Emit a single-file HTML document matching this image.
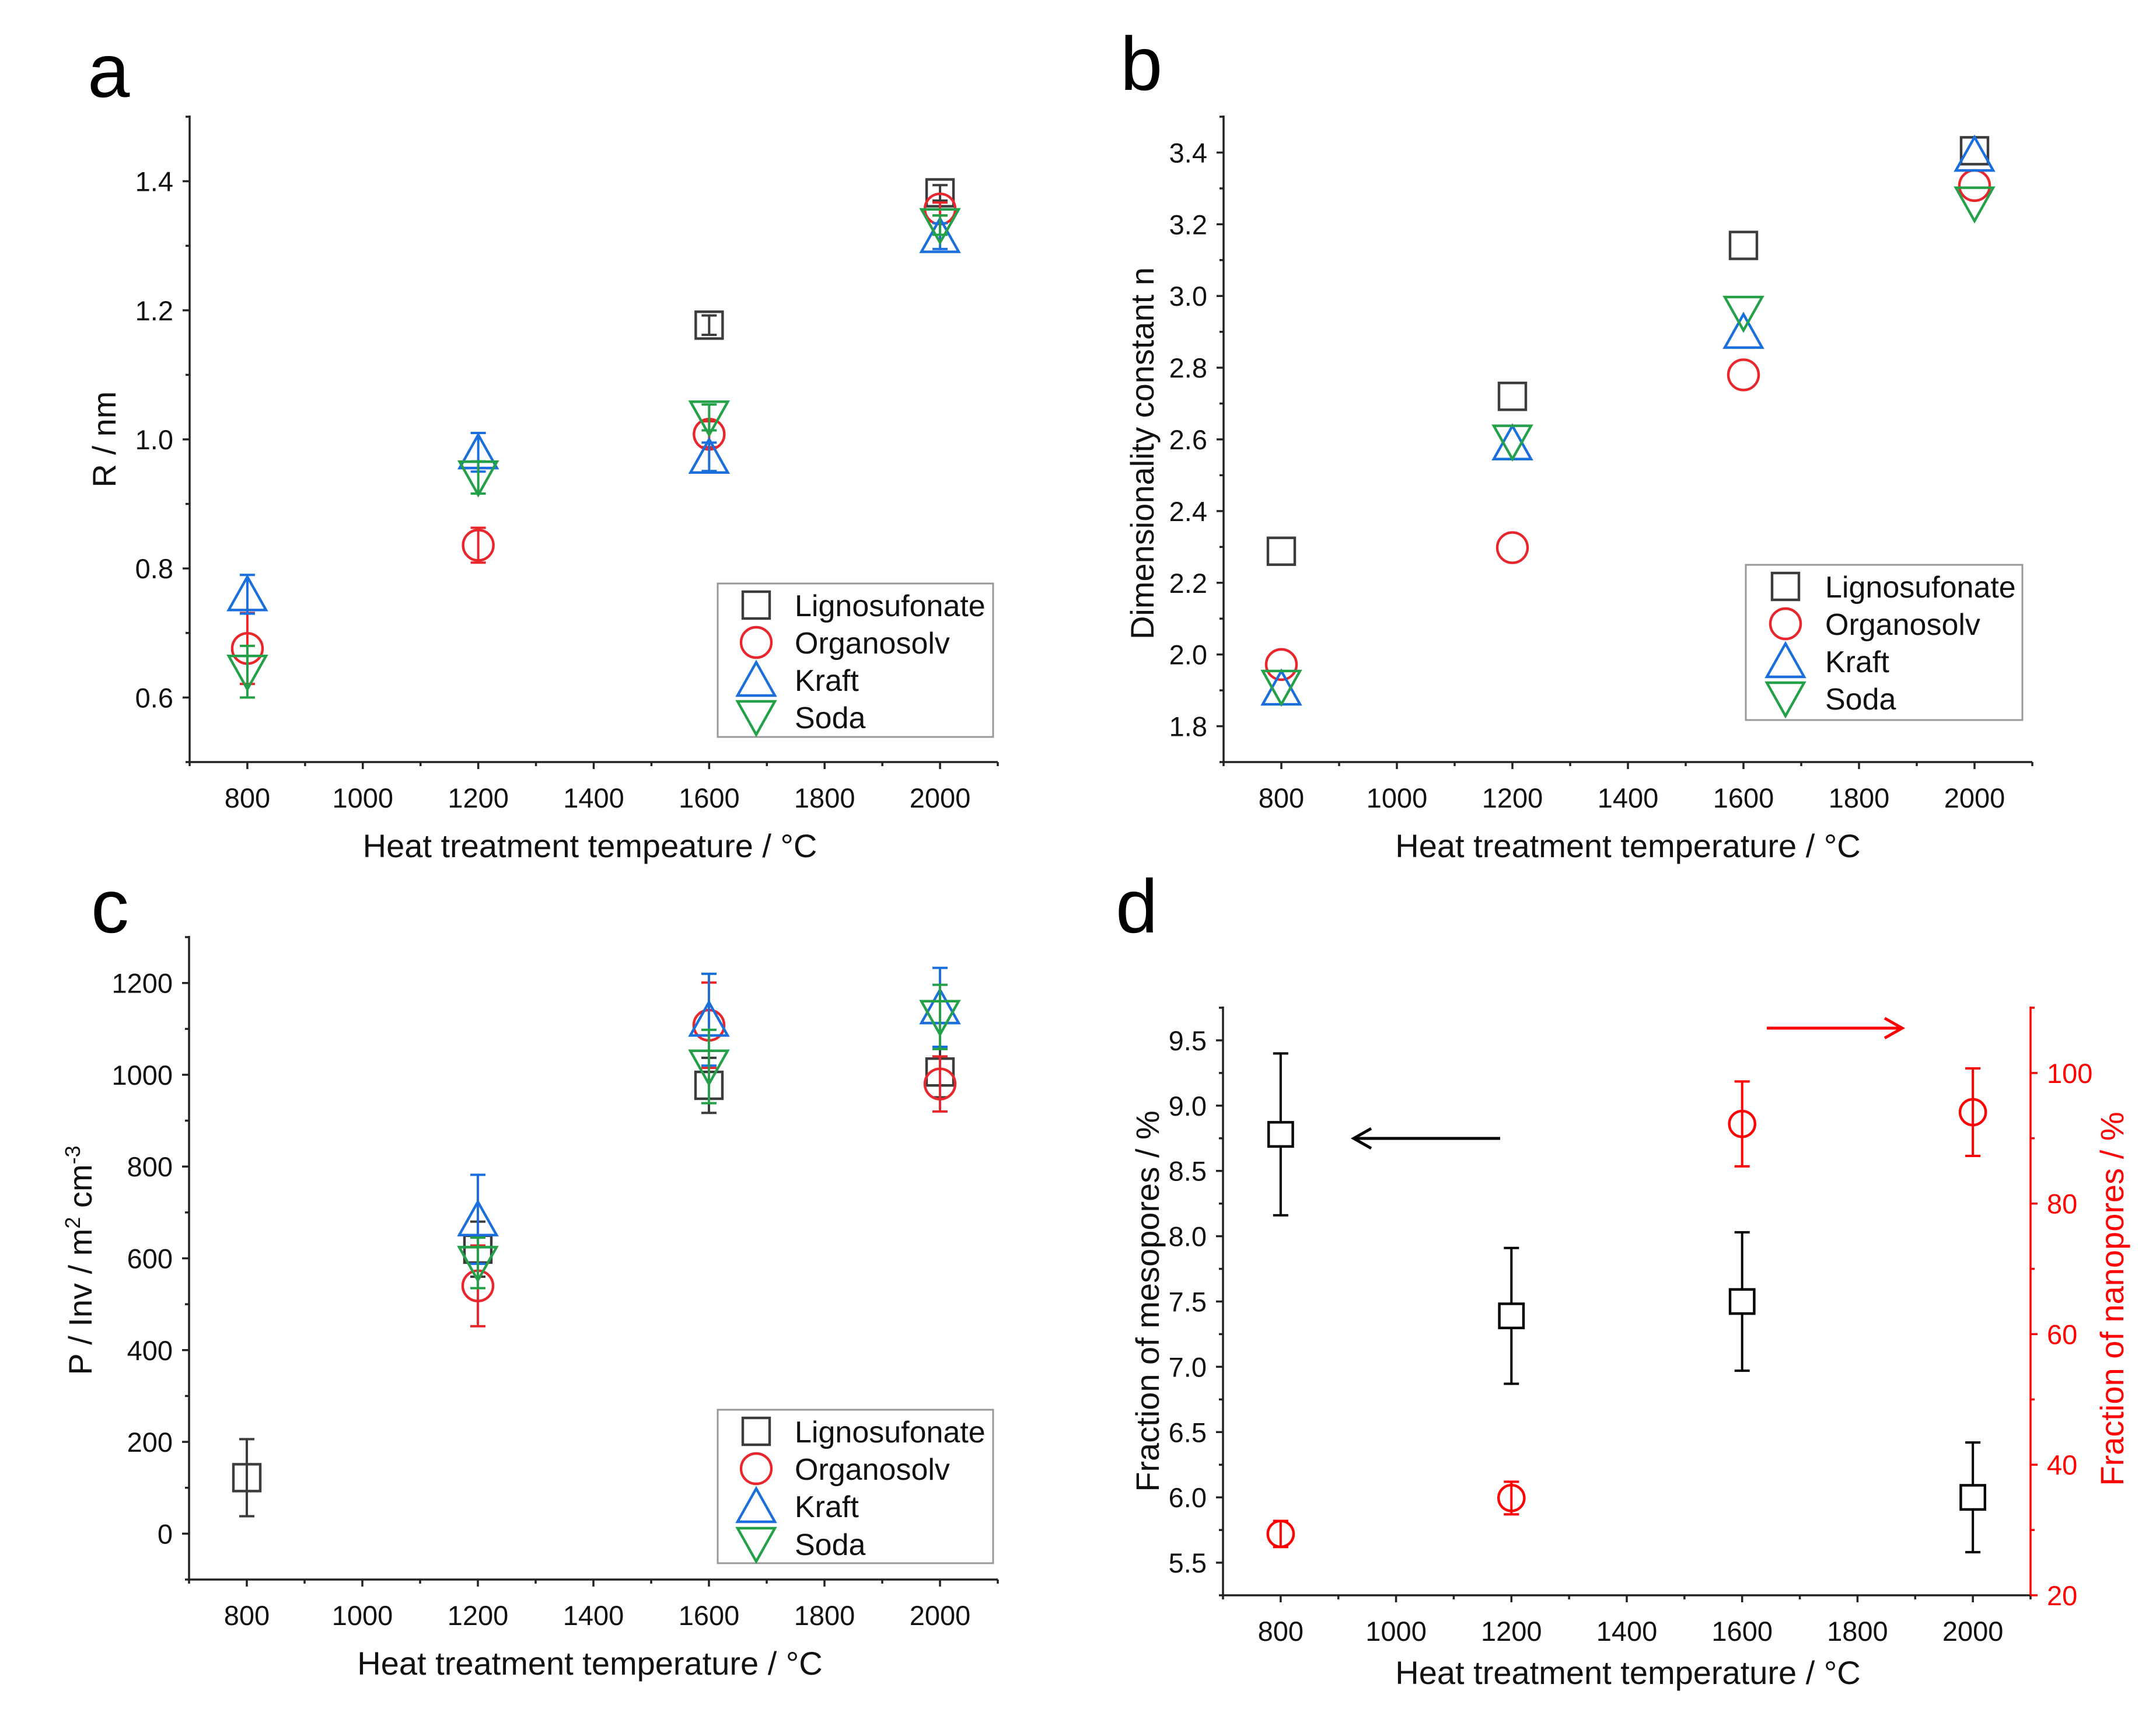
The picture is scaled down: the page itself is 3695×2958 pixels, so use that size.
<!DOCTYPE html>
<html><head><meta charset="utf-8">
<style>
html,body{margin:0;padding:0;background:#fff;overflow:hidden;}
svg{display:block;font-family:"Liberation Sans",Arial,sans-serif;}
</style></head>
<body>
<svg id="fig" width="3695" height="2958" viewBox="0 0 3695 2958" xmlns="http://www.w3.org/2000/svg"></svg>
<script>
// ---------- data ----------
const temps = [800, 1200, 1600, 2000];
const seriesNames = ["Lignosufonate", "Organosolv", "Kraft", "Soda"];
// panel a: R / nm
const ligA = [null, null, 1.177, 1.382];
const ligAErr = [0, 0, 0.015, 0.012];
const orgA = [0.676, 0.836, 1.008, 1.357];
const orgAErr = [0.055, 0.027, 0.02, 0.01];
const kraA = [0.76, 0.98, 0.973, 1.315];
const kraAErr = [0.03, 0.03, 0.022, 0.02];
const sodA = [0.640, 0.941, 1.034, 1.332];
const sodAErr = [0.04, 0.025, 0.02, 0.015];
// panel b: dimensionality constant
const ligB = [2.288, 2.72, 3.141, 3.405];
const orgB = [1.972, 2.298, 2.78, 3.308];
const kraB = [1.905, 2.589, 2.90, 3.394];
const sodB = [1.91, 2.594, 2.953, 3.258];
// panel c: P / Inv
const ligC = [122, 620, 977, 1006];
const ligCErr = [84, 60, 60, 55];
const orgC = [null, 540, 1108, 980];
const orgCErr = [0, 88, 93, 60];
const kraC = [null, 685, 1120, 1147];
const kraCErr = [0, 97, 100, 86];
const sodC = [null, 590, 1018, 1126];
const sodCErr = [0, 55, 80, 70];
// panel d
const mesoD = [8.78, 7.39, 7.50, 6.00];
const mesoDErr = [0.62, 0.52, 0.53, 0.42];
const nanoD = [29.4, 34.9, 92.2, 94.0];
const nanoDErr = [2, 2.5, 6.5, 6.7];
// tick labels
const xTicks = [800, 1000, 1200, 1400, 1600, 1800, 2000];
const yTicksA = ["0.6", "0.8", "1.0", "1.2", "1.4"];
const yTicksB = ["1.8", "2.0", "2.2", "2.4", "2.6", "2.8", "3.0", "3.2", "3.4"];
const yTicksC = ["0", "200", "400", "600", "800", "1000", "1200"];
const yTicksD = ["5.5", "6.0", "6.5", "7.0", "7.5", "8.0", "8.5", "9.0", "9.5"];
const yTicksD2 = ["20", "40", "60", "80", "100"];

const COLORS = ["#3c3c3c", "#e8262b", "#1a6fdc", "#23a048"];
const SHAPES = ["square", "circle", "up", "down"];
const NS = "http://www.w3.org/2000/svg";
const svg = document.getElementById("fig");

function el(tag, attrs, parent) {
  const e = document.createElementNS(NS, tag);
  for (const k in attrs) e.setAttribute(k, attrs[k]);
  (parent || svg).appendChild(e);
  return e;
}
function txt(x, y, s, size, anchor, parent, fill, name) {
  const t = el("text", {x: x, y: y, "font-size": size, "text-anchor": anchor || "start", fill: fill || "#111"}, parent);
  
  
  t.textContent = s;
  return t;
}
function marker(g, shape, cx, cy, color, s) {
  s = s || 1;
  let m;
  const sw = 4.4;
  if (shape === "square") m = el("rect", {x: cx - 23*s, y: cy - 23*s, width: 46*s, height: 46*s, fill: "none", stroke: color, "stroke-width": sw}, g);
  else if (shape === "circle") m = el("ellipse", {cx: cx, cy: cy, rx: 26*s, ry: 26*s, fill: "none", stroke: color, "stroke-width": sw}, g);
  else if (shape === "up") m = el("polygon", {points: `${cx-32*s},${cy+27*s} ${cx+32*s},${cy+27*s} ${cx},${cy-30*s}`, fill: "none", stroke: color, "stroke-width": sw}, g);
  else m = el("polygon", {points: `${cx-32*s},${cy-27*s} ${cx+32*s},${cy-27*s} ${cx},${cy+30*s}`, fill: "none", stroke: color, "stroke-width": sw}, g);
  
  
  return m;
}
function errbar(g, x, y1, y2, color) {
  const p = el("path", {d: `M${x},${y1}V${y2}M${x-13},${y1}H${x+13}M${x-13},${y2}H${x+13}`, stroke: color, "stroke-width": 4, fill: "none"}, g);
  
  
}

function panel(cfg) {
  const g = el("g", {});
  
  
  const X = v => cfg.L + (v - 700) / 1400 * (cfg.R - cfg.L);
  const Y = v => cfg.B - (v - cfg.ymin) / (cfg.ymax - cfg.ymin) * (cfg.B - cfg.T);
  cfg.X = X; cfg.Y = Y;
  const ax = el("path", {d: `M${cfg.L},${cfg.T-2}V${cfg.B}H${cfg.R}`, stroke: "#222", "stroke-width": 3.5, fill: "none"}, g);
  
  
  for (let v = 700; v <= 2100; v += 100) {
    const major = (v % 200 === 0);
    el("line", {x1: X(v), x2: X(v), y1: cfg.B, y2: cfg.B + (major ? 12 : 7), stroke: "#222", "stroke-width": 3.5}, g);
  }
  xTicks.forEach(v => txt(X(v), cfg.B + 78, String(v), 47, "middle", g, "#111", "x-tick-label"));
  const ys = cfg.yStep;
  for (let k = 0; ; k++) {
    const v = cfg.ymin + k * ys / 2;
    if (v > cfg.ymax + 1e-9) break;
    const major = cfg.yTicks.some(t => Math.abs(parseFloat(t) - v) < 1e-6);
    el("line", {x1: cfg.L, x2: cfg.L - (major ? 12 : 7), y1: Y(v), y2: Y(v), stroke: "#222", "stroke-width": 3.5}, g);
  }
  cfg.yTicks.forEach(t => txt(cfg.L - 28, Y(parseFloat(t)) + 17, t, 47, "end", g, "#111", "y-tick-label"));
  txt(cfg.xtitle[0], cfg.xtitle[1], "Heat treatment " + cfg.xtitleWord + " / °C", 56, "middle", g, "#111", "x-axis-title");
  const yt = el("g", {transform: `translate(${cfg.ytitle[0]},${cfg.ytitle[1]}) rotate(-90)`}, g);
  
  
  if (cfg.ytitleHTML) {
    const t = el("text", {x: 0, y: 0, "font-size": 56, "text-anchor": "middle", fill: "#111"}, yt);
    
    
    t.innerHTML = cfg.ytitleHTML;
  } else txt(0, 0, cfg.ytitleText, 56, "middle", yt, "#111", "y-axis-title-text");
  const lt = el("text", {x: cfg.letter[0], y: cfg.letter[1], "font-size": 130, fill: "#000"}, g);
  
  
  lt.textContent = cfg.letterText;
  return g;
}

function drawSeries(cfg, g, vals, errs, idx, s) {
  const sg = el("g", {}, g);
  
  
  temps.forEach((t, i) => {
    if (vals[i] === null) return;
    if (errs && errs[i]) errbar(sg, cfg.X(t), cfg.Y(vals[i] + errs[i]), cfg.Y(vals[i] - errs[i]), COLORS[idx]);
  });
  temps.forEach((t, i) => {
    if (vals[i] === null) return;
    marker(sg, SHAPES[idx], cfg.X(t), cfg.Y(vals[i]), COLORS[idx], s);
  });
}

function legend(g, x0, y0, x1, y1, symX, textX, rows) {
  const lg = el("g", {}, g);
  
  
  el("rect", {x: x0, y: y0, width: x1 - x0, height: y1 - y0, fill: "#fff", stroke: "#999", "stroke-width": 3}, lg);
  seriesNames.forEach((n, i) => {
    const e = el("g", {}, lg);
    
    
    marker(e, SHAPES[i], symX, rows[i], COLORS[i]);
    txt(textX, rows[i] + 19, n, 52, "start", e, "#111", "legend-label");
  });
}

// Panel a
const A = {name: "panel-a", L: 325, R: 1710, B: 1306, T: 200, ymin: 0.5, ymax: 1.5, yStep: 0.2, yTicks: yTicksA,
  xtitle: [1011, 1469], xtitleWord: "tempeature", ytitle: [198, 753], ytitleText: "R / nm", letter: [150, 166], letterText: "a"};
const gA = panel(A);
drawSeries(A, gA, ligA, ligAErr, 0);
drawSeries(A, gA, orgA, orgAErr, 1);
drawSeries(A, gA, kraA, kraAErr, 2);
drawSeries(A, gA, sodA, sodAErr, 3);
legend(gA, 1230, 1000, 1702, 1263, 1296, 1362, [1037, 1101, 1165, 1229]);

// Panel b
const Bp = {name: "panel-b", L: 2097, R: 3483, B: 1306, T: 200, ymin: 1.7, ymax: 3.5, yStep: 0.2, yTicks: yTicksB,
  xtitle: [2790, 1469], xtitleWord: "temperature", ytitle: [1977, 777], ytitleText: "Dimensionality constant n", letter: [1920, 154], letterText: "b"};
const gB = panel(Bp);
drawSeries(Bp, gB, ligB, null, 0);
drawSeries(Bp, gB, orgB, null, 1);
drawSeries(Bp, gB, kraB, null, 2);
drawSeries(Bp, gB, sodB, null, 3);
legend(gB, 2992, 968, 3466, 1234, 3060, 3128, [1005, 1069, 1133, 1197]);

// Panel c
const C = {name: "panel-c", L: 324, R: 1710, B: 2707, T: 1606, ymin: -100, ymax: 1300, yStep: 200, yTicks: yTicksC,
  xtitle: [1011, 2870], xtitleWord: "temperature",
  ytitle: [157, 2160], ytitleHTML: 'P / Inv  /  m<tspan baseline-shift="super" font-size="36">2</tspan>  cm<tspan baseline-shift="super" font-size="36">-3</tspan>',
  letter: [156, 1598], letterText: "c"};
const gC = panel(C);
drawSeries(C, gC, ligC, ligCErr, 0);
drawSeries(C, gC, orgC, orgCErr, 1);
drawSeries(C, gC, kraC, kraCErr, 2);
drawSeries(C, gC, sodC, sodCErr, 3);
legend(gC, 1230, 2416, 1702, 2679, 1296, 1362, [2453, 2517, 2581, 2646]);

// Panel d
const D = {name: "panel-d", L: 2096, R: 3480, B: 2734, T: 1727, ymin: 5.25, ymax: 9.75, yStep: 0.5, yTicks: yTicksD,
  xtitle: [2790, 2886], xtitleWord: "temperature", ytitle: [1986, 2230], ytitleText: "Fraction of mesopores / %", letter: [1912, 1598], letterText: "d"};
const gD = panel(D);
const Y2 = v => D.B - (v - 20) / (110 - 20) * (D.B - D.T);
const rax = el("line", {x1: D.R, x2: D.R, y1: D.T - 2, y2: D.B, stroke: "#f00", "stroke-width": 3.5}, gD);


for (let v = 20; v <= 110; v += 10) {
  el("line", {x1: D.R, x2: D.R + (v % 20 === 0 ? 12 : 7), y1: Y2(v), y2: Y2(v), stroke: "#f00", "stroke-width": 3.5}, gD);
}
yTicksD2.forEach(t => txt(D.R + 28, Y2(parseFloat(t)) + 17, t, 47, "start", gD, "#f00", "right-tick-label"));
const rt = el("g", {transform: `translate(3639,2226) rotate(-90)`}, gD);


txt(0, 0, "Fraction of nanopores / %", 56, "middle", rt, "#f00", "right-axis-title-text");
const mg = el("g", {}, gD);


temps.forEach((t, i) => errbar(mg, D.X(t), D.Y(mesoD[i] + mesoDErr[i]), D.Y(mesoD[i] - mesoDErr[i]), "#000"));
temps.forEach((t, i) => { const m = marker(mg, "square", D.X(t), D.Y(mesoD[i]), "#000", 0.9); m.setAttribute("fill", "#fff"); });
const ng = el("g", {}, gD);


temps.forEach((t, i) => errbar(ng, D.X(t), Y2(nanoD[i] + nanoDErr[i]), Y2(nanoD[i] - nanoDErr[i]), "#f00"));
temps.forEach((t, i) => marker(ng, "circle", D.X(t), Y2(nanoD[i]), "#f00", 0.85));
const a1 = el("path", {d: "M2571,1951H2322M2350,1934L2320,1951L2350,1968", stroke: "#000", "stroke-width": 5, fill: "none"}, gD);


const a2 = el("path", {d: "M3028,1762H3258M3230,1745L3260,1762L3230,1779", stroke: "#f00", "stroke-width": 5, fill: "none"}, gD);


</script>
</body></html>
